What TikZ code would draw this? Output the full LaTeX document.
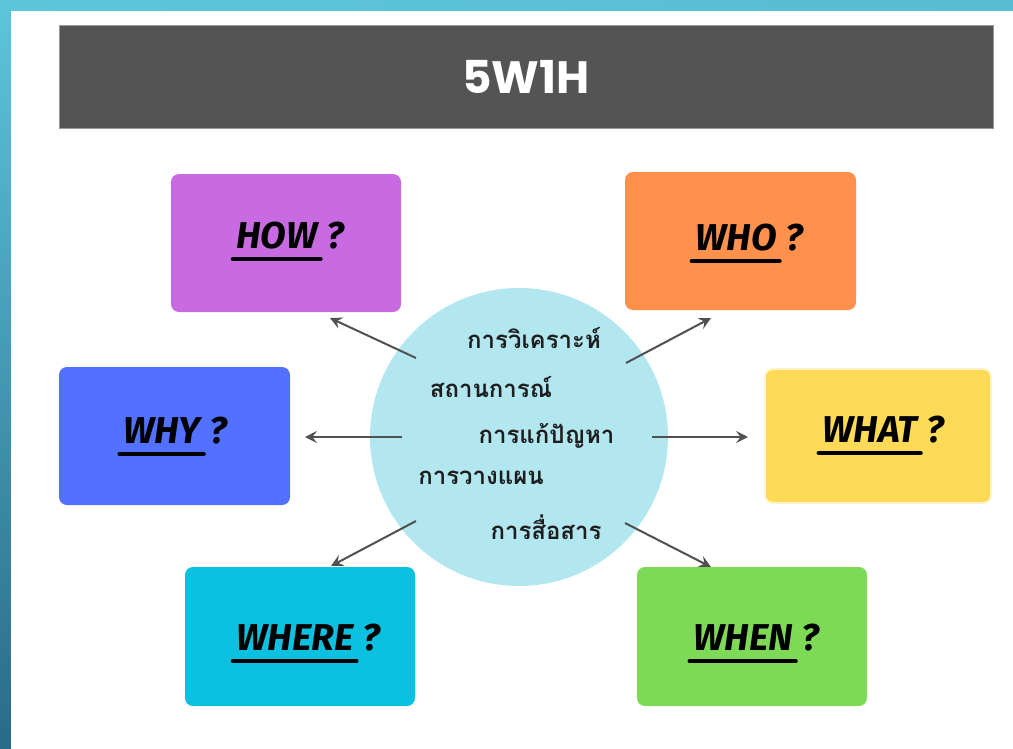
\documentclass[tikz,border=0pt]{standalone}
\usepackage{fontspec}
\usetikzlibrary{arrows.meta}
\newfontfamily\thaifont[Script=Thai]{Loma}
\newfontfamily\titlefont{Poppins}
\newfontfamily\qfont{Fira Sans}
\definecolor{frameTop}{HTML}{5CC6DA}
\definecolor{frameBot}{HTML}{2A6A8A}
\definecolor{frameR}{HTML}{58BCD4}
\definecolor{titlebg}{HTML}{545454}
\definecolor{cHow}{HTML}{C86BE2}
\definecolor{cWho}{HTML}{FF914D}
\definecolor{cWhy}{HTML}{5271FF}
\definecolor{cWhat}{HTML}{FFDA57}
\definecolor{cWhere}{HTML}{0CC0DF}
\definecolor{cWhen}{HTML}{7ED957}
\definecolor{cCircle}{HTML}{B3E7F0}
\definecolor{arrowgray}{HTML}{505050}
\definecolor{thaitext}{HTML}{1E1E1E}
\newcommand\qlab[4]{%
  \node[qword, anchor=base] (#1) at (#2,#3) {#4};
  \node[qword, anchor=base west] (#1q) at ([xshift=6.5pt]#1.base east) {?};
  \draw[uline] ([xshift=-2.5pt,yshift=-8.3pt]#1.base west) -- ([xshift=2pt,yshift=-8.3pt]#1.base east);%
}
\begin{document}
\begin{tikzpicture}[x=0.75pt,y=-0.75pt,
  qbox/.style={rounded corners=6pt, minimum width=#1, minimum height=103.5pt, inner sep=0pt},
  qword/.style={font=\qfont\bfseries\itshape\fontsize{28}{28}\selectfont, inner sep=0pt, text=black},
  uline/.style={line width=3.2pt, line cap=round, black},
  thai/.style={font=\thaifont\bfseries\fontsize{18}{18}\selectfont, text=thaitext, inner sep=0pt, anchor=base},
  conn/.style={draw=arrowgray, line width=1.5pt, -{Stealth[length=9pt,width=9pt,inset=3.5pt]}}
]
\useasboundingbox (0,0) rectangle (1013,749);
% frame
\shade[top color=frameTop, bottom color=frameBot] (0,0) rectangle (1013,749);
\shade[left color=frameTop, right color=frameR] (11,0) rectangle (1013,11);
\fill[white] (11,11) rectangle (1013,749);
% title
\node[fill=titlebg, draw=gray!80, line width=0.5pt, minimum width=700.5pt, minimum height=77.25pt, inner sep=0pt,
      text=white, font=\titlefont\bfseries\fontsize{34}{34}\selectfont] (title) at (526,76.5) {5W1H};
% boxes
\node[qbox=172.5pt, fill=cHow] (how) at (286,243) {};
\node[qbox=173.25pt, fill=cWho] (who) at (740.5,241) {};
\node[qbox=173.25pt, fill=cWhy] (why) at (174.5,436) {};
\node[qbox=169.5pt, minimum height=100.5pt, fill=cWhat, draw=cWhat!30!white, line width=1.2pt] (what) at (878,436) {};
\node[qbox=172.5pt, minimum height=104.25pt, fill=cWhere] (where) at (300,636.5) {};
\node[qbox=172.5pt, minimum height=104.25pt, fill=cWhen] (when) at (752,636.5) {};
% labels
\qlab{howt}{277}{248}{HOW}
\qlab{whot}{736}{250}{WHO}
\qlab{whyt}{162}{443}{WHY}
\qlab{whatt}{870}{442}{WHAT}
\qlab{wheret}{295}{650}{WHERE}
\qlab{whent}{743}{650}{WHEN}
% circle
\node[circle, fill=cCircle, minimum size=223.5pt, inner sep=0pt] (hub) at (519,437) {};
\node[thai] (t1) at (534,348) {การวิเคราะห์};
\node[thai] (t2) at (491,397) {สถานการณ์};
\node[thai] (t3) at (546.5,443) {การแก้ปัญหา};
\node[thai] (t4) at (481,484) {การวางแผน};
\node[thai] (t5) at (546,539) {การสื่อสาร};
% connector ends
\coordinate (s-how) at (416,358);   \coordinate (e-how) at (330,318);
\coordinate (s-who) at (626,363);   \coordinate (e-who) at (711,318);
\coordinate (s-why) at (402,437);   \coordinate (e-why) at (305,437);
\coordinate (s-what) at (652,437);  \coordinate (e-what) at (748,437);
\coordinate (s-where) at (416,521); \coordinate (e-where) at (331,566);
\coordinate (s-when) at (625,523);  \coordinate (e-when) at (711,567);
\draw[conn] (s-how) -- (e-how);
\draw[conn] (s-who) -- (e-who);
\draw[conn] (s-why) -- (e-why);
\draw[conn] (s-what) -- (e-what);
\draw[conn] (s-where) -- (e-where);
\draw[conn] (s-when) -- (e-when);
\end{tikzpicture}
\end{document}
